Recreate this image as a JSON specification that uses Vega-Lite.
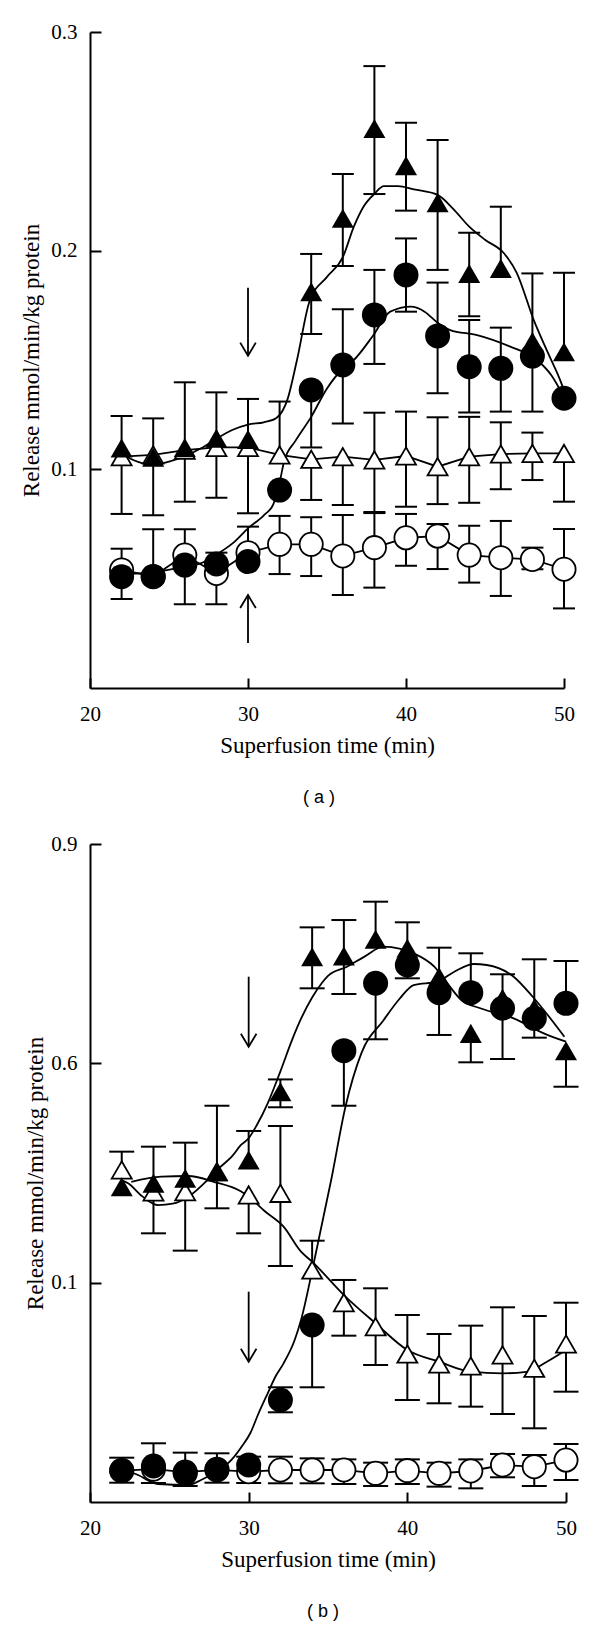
{
  "$schema": "https://vega.github.io/schema/vega-lite/v6.json",
  "background": "white",
  "padding": {"left": 20, "top": 21, "right": 5, "bottom": 5},
  "config": {
    "view": {"stroke": null},
    "axis": {"domainColor": "black", "tickColor": "black", "labelColor": "black", "titleColor": "black", "domainWidth": 2, "tickWidth": 2, "grid": false, "labelFont": "Liberation Serif", "titleFont": "Liberation Serif", "labelFontSize": 21, "titleFontSize": 23, "titleFontWeight": "normal", "labelFlush": false}
  },
  "datasets": {
    "pts": [
      {"p":"a","s":"FT","t":22,"v":0.1098,"hi":0.1244,"lo":0.0796},
      {"p":"a","s":"FT","t":24,"v":0.1055,"hi":0.1233,"lo":0.079},
      {"p":"a","s":"FT","t":26,"v":0.110,"hi":0.1398,"lo":0.0852},
      {"p":"a","s":"FT","t":28,"v":0.1142,"hi":0.1352,"lo":0.087},
      {"p":"a","s":"FT","t":30,"v":0.1137,"hi":0.1322,"lo":0.0799},
      {"p":"a","s":"FT","t":34,"v":0.1812,"hi":0.1985,"lo":0.1619},
      {"p":"a","s":"FT","t":36,"v":0.2148,"hi":0.2351,"lo":0.193},
      {"p":"a","s":"FT","t":38,"v":0.2559,"hi":0.2844,"lo":0.2259},
      {"p":"a","s":"FT","t":40,"v":0.2389,"hi":0.2585,"lo":0.2183},
      {"p":"a","s":"FT","t":42,"v":0.2219,"hi":0.2506,"lo":0.1912},
      {"p":"a","s":"FT","t":44,"v":0.1896,"hi":0.2082,"lo":0.170},
      {"p":"a","s":"FT","t":46,"v":0.1919,"hi":0.2201,"lo":null},
      {"p":"a","s":"FT","t":48,"v":0.1584,"hi":0.1896,"lo":null},
      {"p":"a","s":"FT","t":50,"v":0.1538,"hi":0.1899,"lo":null},
      {"p":"a","s":"OT","t":22,"v":0.1058,"hi":null,"lo":null},
      {"p":"a","s":"OT","t":24,"v":0.1066,"hi":null,"lo":null},
      {"p":"a","s":"OT","t":26,"v":0.1088,"hi":null,"lo":null},
      {"p":"a","s":"OT","t":28,"v":0.110,"hi":null,"lo":null},
      {"p":"a","s":"OT","t":30,"v":0.110,"hi":null,"lo":null},
      {"p":"a","s":"OT","t":32,"v":0.1066,"hi":0.131,"lo":null},
      {"p":"a","s":"OT","t":34,"v":0.1046,"hi":null,"lo":0.086},
      {"p":"a","s":"OT","t":36,"v":0.1058,"hi":null,"lo":0.0837},
      {"p":"a","s":"OT","t":38,"v":0.1043,"hi":0.1259,"lo":0.0805},
      {"p":"a","s":"OT","t":40,"v":0.1061,"hi":0.1264,"lo":0.0829},
      {"p":"a","s":"OT","t":42,"v":0.1012,"hi":0.1238,"lo":0.0841},
      {"p":"a","s":"OT","t":44,"v":0.1058,"hi":0.124,"lo":0.0847},
      {"p":"a","s":"OT","t":46,"v":0.107,"hi":0.1215,"lo":0.0909},
      {"p":"a","s":"OT","t":48,"v":0.1073,"hi":0.1168,"lo":0.0951},
      {"p":"a","s":"OT","t":50,"v":0.1073,"hi":null,"lo":0.0852},
      {"p":"a","s":"FC","t":22,"v":0.0509,"hi":0.0637,"lo":0.0407},
      {"p":"a","s":"FC","t":24,"v":0.0509,"hi":0.0726,"lo":null},
      {"p":"a","s":"FC","t":26,"v":0.0562,"hi":0.0726,"lo":0.0383},
      {"p":"a","s":"FC","t":28,"v":0.0567,"hi":0.0619,"lo":0.0383},
      {"p":"a","s":"FC","t":30,"v":0.0578,"hi":0.0738,"lo":null},
      {"p":"a","s":"FC","t":32,"v":0.0905,"hi":null,"lo":null},
      {"p":"a","s":"FC","t":34,"v":0.1363,"hi":null,"lo":0.110},
      {"p":"a","s":"FC","t":36,"v":0.1477,"hi":0.1732,"lo":0.121},
      {"p":"a","s":"FC","t":38,"v":0.1706,"hi":0.1912,"lo":0.1482},
      {"p":"a","s":"FC","t":40,"v":0.1889,"hi":0.2056,"lo":0.1721},
      {"p":"a","s":"FC","t":42,"v":0.161,"hi":0.1854,"lo":0.1348},
      {"p":"a","s":"FC","t":44,"v":0.1469,"hi":0.1683,"lo":0.126},
      {"p":"a","s":"FC","t":46,"v":0.1462,"hi":0.1648,"lo":0.1264},
      {"p":"a","s":"FC","t":48,"v":0.1518,"hi":null,"lo":0.1264},
      {"p":"a","s":"FC","t":50,"v":0.1325,"hi":null,"lo":null},
      {"p":"a","s":"OC","t":22,"v":0.054,"hi":null,"lo":null},
      {"p":"a","s":"OC","t":24,"v":0.051,"hi":null,"lo":null},
      {"p":"a","s":"OC","t":26,"v":0.0608,"hi":null,"lo":null},
      {"p":"a","s":"OC","t":28,"v":0.0524,"hi":null,"lo":null},
      {"p":"a","s":"OC","t":30,"v":0.0619,"hi":null,"lo":null},
      {"p":"a","s":"OC","t":32,"v":0.0657,"hi":0.0787,"lo":0.0521},
      {"p":"a","s":"OC","t":34,"v":0.0657,"hi":0.0781,"lo":0.0512},
      {"p":"a","s":"OC","t":36,"v":0.0604,"hi":0.0791,"lo":0.0425},
      {"p":"a","s":"OC","t":38,"v":0.0642,"hi":0.080,"lo":0.0459},
      {"p":"a","s":"OC","t":40,"v":0.0687,"hi":0.0796,"lo":0.0559},
      {"p":"a","s":"OC","t":42,"v":0.0695,"hi":0.075,"lo":0.0544},
      {"p":"a","s":"OC","t":44,"v":0.0608,"hi":0.0742,"lo":0.0482},
      {"p":"a","s":"OC","t":46,"v":0.0596,"hi":0.0764,"lo":0.0421},
      {"p":"a","s":"OC","t":48,"v":0.0588,"hi":0.0642,"lo":0.0543},
      {"p":"a","s":"OC","t":50,"v":0.0543,"hi":0.0727,"lo":0.0364},
      {"p":"b","s":"FT","t":22,"v":0.4313,"hi":null,"lo":null},
      {"p":"b","s":"FT","t":24,"v":0.4359,"hi":0.486,"lo":null},
      {"p":"b","s":"FT","t":26,"v":0.4427,"hi":0.4915,"lo":null},
      {"p":"b","s":"FT","t":28,"v":0.4518,"hi":0.542,"lo":0.4017},
      {"p":"b","s":"FT","t":30,"v":0.4678,"hi":0.5075,"lo":null},
      {"p":"b","s":"FT","t":32,"v":0.5612,"hi":0.578,"lo":0.5399},
      {"p":"b","s":"FT","t":34,"v":0.7459,"hi":0.786,"lo":0.7026},
      {"p":"b","s":"FT","t":36,"v":0.7468,"hi":0.796,"lo":0.6948},
      {"p":"b","s":"FT","t":38,"v":0.7696,"hi":0.8211,"lo":null},
      {"p":"b","s":"FT","t":40,"v":0.7573,"hi":0.7929,"lo":null},
      {"p":"b","s":"FT","t":42,"v":0.7185,"hi":0.7582,"lo":null},
      {"p":"b","s":"FT","t":44,"v":0.641,"hi":null,"lo":0.6014},
      {"p":"b","s":"FT","t":46,"v":0.689,"hi":0.7218,"lo":null},
      {"p":"b","s":"FT","t":48,"v":0.6753,"hi":0.7423,"lo":null},
      {"p":"b","s":"FT","t":50,"v":0.6173,"hi":null,"lo":0.568},
      {"p":"b","s":"OT","t":22,"v":0.4541,"hi":0.4792,"lo":null},
      {"p":"b","s":"OT","t":24,"v":0.424,"hi":null,"lo":0.3675},
      {"p":"b","s":"OT","t":26,"v":0.4245,"hi":null,"lo":0.3438},
      {"p":"b","s":"OT","t":28,"v":0.4518,"hi":null,"lo":null},
      {"p":"b","s":"OT","t":30,"v":0.42,"hi":null,"lo":0.3675},
      {"p":"b","s":"OT","t":32,"v":0.4222,"hi":0.5143,"lo":0.3228},
      {"p":"b","s":"OT","t":34,"v":0.3173,"hi":0.3574,"lo":null},
      {"p":"b","s":"OT","t":36,"v":0.2726,"hi":0.3037,"lo":0.2275},
      {"p":"b","s":"OT","t":38,"v":0.2398,"hi":0.2923,"lo":0.1874},
      {"p":"b","s":"OT","t":40,"v":0.2024,"hi":0.2558,"lo":0.1395},
      {"p":"b","s":"OT","t":42,"v":0.1888,"hi":0.2298,"lo":0.135},
      {"p":"b","s":"OT","t":44,"v":0.186,"hi":0.2412,"lo":0.1304},
      {"p":"b","s":"OT","t":46,"v":0.2011,"hi":0.2663,"lo":0.1204},
      {"p":"b","s":"OT","t":48,"v":0.1829,"hi":0.2544,"lo":0.1008},
      {"p":"b","s":"OT","t":50,"v":0.2161,"hi":0.2726,"lo":0.1509},
      {"p":"b","s":"FC","t":22,"v":0.0429,"hi":0.0606,"lo":0.0264},
      {"p":"b","s":"FC","t":24,"v":0.0492,"hi":0.0803,"lo":0.026},
      {"p":"b","s":"FC","t":26,"v":0.0392,"hi":0.0675,"lo":0.0219},
      {"p":"b","s":"FC","t":28,"v":0.0447,"hi":0.0666,"lo":0.0264},
      {"p":"b","s":"FC","t":30,"v":0.0506,"hi":0.062,"lo":0.026},
      {"p":"b","s":"FC","t":32,"v":0.1395,"hi":0.1569,"lo":0.1227},
      {"p":"b","s":"FC","t":34,"v":0.2421,"hi":null,"lo":0.1569},
      {"p":"b","s":"FC","t":36,"v":0.6173,"hi":null,"lo":0.542},
      {"p":"b","s":"FC","t":38,"v":0.7095,"hi":null,"lo":0.6329},
      {"p":"b","s":"FC","t":40,"v":0.7345,"hi":null,"lo":0.7163},
      {"p":"b","s":"FC","t":42,"v":0.6966,"hi":null,"lo":0.6388},
      {"p":"b","s":"FC","t":44,"v":0.6966,"hi":0.7505,"lo":null},
      {"p":"b","s":"FC","t":46,"v":0.6753,"hi":null,"lo":0.6059},
      {"p":"b","s":"FC","t":48,"v":0.6616,"hi":null,"lo":0.6351},
      {"p":"b","s":"FC","t":50,"v":0.6821,"hi":0.74,"lo":null},
      {"p":"b","s":"OC","t":22,"v":0.043,"hi":null,"lo":null},
      {"p":"b","s":"OC","t":24,"v":0.045,"hi":null,"lo":null},
      {"p":"b","s":"OC","t":26,"v":0.041,"hi":null,"lo":null},
      {"p":"b","s":"OC","t":28,"v":0.044,"hi":null,"lo":null},
      {"p":"b","s":"OC","t":30,"v":0.0415,"hi":null,"lo":null},
      {"p":"b","s":"OC","t":32,"v":0.0438,"hi":0.062,"lo":0.0256},
      {"p":"b","s":"OC","t":34,"v":0.0438,"hi":0.0597,"lo":0.0256},
      {"p":"b","s":"OC","t":36,"v":0.0438,"hi":0.0583,"lo":0.0246},
      {"p":"b","s":"OC","t":38,"v":0.0392,"hi":0.0538,"lo":0.0219},
      {"p":"b","s":"OC","t":40,"v":0.0429,"hi":0.0583,"lo":0.0246},
      {"p":"b","s":"OC","t":42,"v":0.0392,"hi":0.0538,"lo":0.021},
      {"p":"b","s":"OC","t":44,"v":0.0424,"hi":0.0583,"lo":0.0187},
      {"p":"b","s":"OC","t":46,"v":0.0506,"hi":0.0657,"lo":0.0338},
      {"p":"b","s":"OC","t":48,"v":0.0483,"hi":0.0643,"lo":0.0219},
      {"p":"b","s":"OC","t":50,"v":0.0574,"hi":0.0793,"lo":0.0301}
    ],
    "curves": [
      {"p":"a","s":"FT","t":22,"v":0.107},{"p":"a","s":"FT","t":23,"v":0.1035},{"p":"a","s":"FT","t":24,"v":0.102},{"p":"a","s":"FT","t":25,"v":0.1035},{"p":"a","s":"FT","t":26,"v":0.106},{"p":"a","s":"FT","t":27,"v":0.1095},{"p":"a","s":"FT","t":28,"v":0.114},{"p":"a","s":"FT","t":29,"v":0.118},{"p":"a","s":"FT","t":30,"v":0.1205},{"p":"a","s":"FT","t":31,"v":0.1215},{"p":"a","s":"FT","t":31.8,"v":0.1235},{"p":"a","s":"FT","t":32.5,"v":0.132},{"p":"a","s":"FT","t":33.1,"v":0.15},{"p":"a","s":"FT","t":33.9,"v":0.177},{"p":"a","s":"FT","t":35,"v":0.188},{"p":"a","s":"FT","t":36,"v":0.197},{"p":"a","s":"FT","t":36.7,"v":0.211},{"p":"a","s":"FT","t":37.3,"v":0.22},{"p":"a","s":"FT","t":38,"v":0.226},{"p":"a","s":"FT","t":38.6,"v":0.2295},{"p":"a","s":"FT","t":39.5,"v":0.2295},{"p":"a","s":"FT","t":40.5,"v":0.228},{"p":"a","s":"FT","t":42,"v":0.2255},{"p":"a","s":"FT","t":43,"v":0.219},{"p":"a","s":"FT","t":44,"v":0.211},{"p":"a","s":"FT","t":45,"v":0.205},{"p":"a","s":"FT","t":46.2,"v":0.1988},{"p":"a","s":"FT","t":47,"v":0.19},{"p":"a","s":"FT","t":48.1,"v":0.168},{"p":"a","s":"FT","t":49,"v":0.153},{"p":"a","s":"FT","t":49.8,"v":0.14},{"p":"a","s":"FT","t":50,"v":0.136},
      {"p":"a","s":"FC","t":22,"v":0.052},{"p":"a","s":"FC","t":24,"v":0.053},{"p":"a","s":"FC","t":26,"v":0.0555},{"p":"a","s":"FC","t":27,"v":0.057},{"p":"a","s":"FC","t":28,"v":0.061},{"p":"a","s":"FC","t":29,"v":0.066},{"p":"a","s":"FC","t":30,"v":0.073},{"p":"a","s":"FC","t":31,"v":0.079},{"p":"a","s":"FC","t":31.6,"v":0.084},{"p":"a","s":"FC","t":32,"v":0.094},{"p":"a","s":"FC","t":32.3,"v":0.104},{"p":"a","s":"FC","t":33,"v":0.113},{"p":"a","s":"FC","t":34,"v":0.124},{"p":"a","s":"FC","t":35,"v":0.137},{"p":"a","s":"FC","t":36,"v":0.146},{"p":"a","s":"FC","t":36.7,"v":0.15},{"p":"a","s":"FC","t":37.9,"v":0.161},{"p":"a","s":"FC","t":39,"v":0.1721},{"p":"a","s":"FC","t":40.3,"v":0.1744},{"p":"a","s":"FC","t":41.2,"v":0.172},{"p":"a","s":"FC","t":42,"v":0.167},{"p":"a","s":"FC","t":42.8,"v":0.1637},{"p":"a","s":"FC","t":44.5,"v":0.1614},{"p":"a","s":"FC","t":46.6,"v":0.1561},{"p":"a","s":"FC","t":48.3,"v":0.15},{"p":"a","s":"FC","t":49.2,"v":0.143},{"p":"a","s":"FC","t":50,"v":0.133},
      {"p":"b","s":"FT","t":22,"v":0.44},{"p":"b","s":"FT","t":22.4,"v":0.436},{"p":"b","s":"FT","t":23.3,"v":0.418},{"p":"b","s":"FT","t":24.3,"v":0.406},{"p":"b","s":"FT","t":25.2,"v":0.408},{"p":"b","s":"FT","t":26.2,"v":0.4176},{"p":"b","s":"FT","t":27.4,"v":0.4404},{"p":"b","s":"FT","t":28,"v":0.454},{"p":"b","s":"FT","t":29,"v":0.474},{"p":"b","s":"FT","t":29.5,"v":0.488},{"p":"b","s":"FT","t":30,"v":0.4975},{"p":"b","s":"FT","t":30.5,"v":0.515},{"p":"b","s":"FT","t":31.2,"v":0.5453},{"p":"b","s":"FT","t":32,"v":0.589},{"p":"b","s":"FT","t":32.7,"v":0.63},{"p":"b","s":"FT","t":33.3,"v":0.661},{"p":"b","s":"FT","t":34,"v":0.69},{"p":"b","s":"FT","t":34.6,"v":0.7095},{"p":"b","s":"FT","t":35,"v":0.7195},{"p":"b","s":"FT","t":36.2,"v":0.7322},{"p":"b","s":"FT","t":37.3,"v":0.746},{"p":"b","s":"FT","t":38.5,"v":0.7595},{"p":"b","s":"FT","t":39.5,"v":0.757},{"p":"b","s":"FT","t":40.4,"v":0.7505},{"p":"b","s":"FT","t":41.7,"v":0.7322},{"p":"b","s":"FT","t":42.5,"v":0.71},{"p":"b","s":"FT","t":43.4,"v":0.6866},{"p":"b","s":"FT","t":44.6,"v":0.6753},{"p":"b","s":"FT","t":46.7,"v":0.6616},{"p":"b","s":"FT","t":48.6,"v":0.641},{"p":"b","s":"FT","t":50,"v":0.6296},
      {"p":"b","s":"FC","t":22,"v":0.043},{"p":"b","s":"FC","t":22.8,"v":0.039},{"p":"b","s":"FC","t":24.3,"v":0.0246},{"p":"b","s":"FC","t":26.2,"v":0.0233},{"p":"b","s":"FC","t":27,"v":0.0301},{"p":"b","s":"FC","t":28,"v":0.042},{"p":"b","s":"FC","t":28.9,"v":0.0574},{"p":"b","s":"FC","t":29.5,"v":0.074},{"p":"b","s":"FC","t":30.1,"v":0.094},{"p":"b","s":"FC","t":30.6,"v":0.12},{"p":"b","s":"FC","t":31.2,"v":0.1487},{"p":"b","s":"FC","t":31.7,"v":0.172},{"p":"b","s":"FC","t":32.2,"v":0.1897},{"p":"b","s":"FC","t":32.9,"v":0.2216},{"p":"b","s":"FC","t":33.3,"v":0.2489},{"p":"b","s":"FC","t":34.1,"v":0.3265},{"p":"b","s":"FC","t":35.2,"v":0.4404},{"p":"b","s":"FC","t":36.1,"v":0.5407},{"p":"b","s":"FC","t":37.1,"v":0.6137},{"p":"b","s":"FC","t":38.5,"v":0.659},{"p":"b","s":"FC","t":39.5,"v":0.688},{"p":"b","s":"FC","t":40.4,"v":0.7071},{"p":"b","s":"FC","t":41.9,"v":0.7117},{"p":"b","s":"FC","t":42.96,"v":0.7253},{"p":"b","s":"FC","t":44.2,"v":0.7359},{"p":"b","s":"FC","t":45,"v":0.7345},{"p":"b","s":"FC","t":46.7,"v":0.7185},{"p":"b","s":"FC","t":47.9,"v":0.6911},{"p":"b","s":"FC","t":49.9,"v":0.6364},
      {"p":"b","s":"OT","t":22.6,"v":0.438},{"p":"b","s":"OT","t":24.5,"v":0.445},{"p":"b","s":"OT","t":26.2,"v":0.4459},{"p":"b","s":"OT","t":27.8,"v":0.438},{"p":"b","s":"OT","t":29.5,"v":0.425},{"p":"b","s":"OT","t":30,"v":0.4176},{"p":"b","s":"OT","t":31,"v":0.398},{"p":"b","s":"OT","t":32.2,"v":0.3766},{"p":"b","s":"OT","t":33.3,"v":0.3424},{"p":"b","s":"OT","t":34,"v":0.3287},{"p":"b","s":"OT","t":36,"v":0.2831},{"p":"b","s":"OT","t":38,"v":0.2444},{"p":"b","s":"OT","t":40,"v":0.2079},{"p":"b","s":"OT","t":42,"v":0.1919},{"p":"b","s":"OT","t":44,"v":0.1782},{"p":"b","s":"OT","t":46,"v":0.176},{"p":"b","s":"OT","t":47.5,"v":0.178},{"p":"b","s":"OT","t":48.8,"v":0.1919},{"p":"b","s":"OT","t":50,"v":0.2079}
    ],
    "arrows": [
      {"p":"a","t":30,"v":0.152,"v2":0.183,"dir":"down"},
      {"p":"a","t":30,"v":0.0425,"v2":0.0206,"dir":"up"},
      {"p":"b","t":30,"v":0.6228,"v2":0.7185,"dir":"down"},
      {"p":"b","t":30,"v":0.1919,"v2":0.2877,"dir":"down"}
    ]
  },
  "concat": [
    {
      "width": 474,
      "height": 656,
      "title": {"text": "( a )", "orient": "bottom", "anchor": "middle", "frame": "group", "font": "Liberation Sans", "fontSize": 18, "fontWeight": "normal", "color": "black", "offset": 32, "dx": -8},
      "encoding": {
        "x": {"field": "t", "type": "quantitative", "scale": {"domain": [20, 50], "nice": false}, "axis": {"values": [20, 30, 40, 50], "format": "d", "title": "Superfusion time (min)", "tickSize": -10, "labelPadding": 25, "titlePadding": 10}},
        "y": {"field": "v", "type": "quantitative", "scale": {"domain": [0, 0.3], "nice": false}, "axis": {"values": [0.1, 0.2, 0.3], "format": ".1f", "title": "Release mmol/min/kg protein", "tickSize": -11, "labelPadding": 24, "titlePadding": 7}}
      },
      "layer": [
        {"data": {"name": "pts"}, "transform": [{"filter": "datum.p=='a' && isValid(datum.hi)"}], "mark": {"type": "rule", "strokeWidth": 2, "color": "black"}, "encoding": {"y2": {"field": "hi"}}},
        {"data": {"name": "pts"}, "transform": [{"filter": "datum.p=='a' && isValid(datum.lo)"}], "mark": {"type": "rule", "strokeWidth": 2, "color": "black"}, "encoding": {"y2": {"field": "lo"}}},
        {"data": {"name": "pts"}, "transform": [{"filter": "datum.p=='a'"}, {"fold": ["hi", "lo"], "as": ["end", "v"]}, {"filter": "isValid(datum.v)"}], "mark": {"type": "tick", "orient": "horizontal", "size": 22, "thickness": 2, "color": "black", "opacity": 1}},
        {"data": {"name": "curves"}, "transform": [{"filter": "datum.p=='a'"}], "mark": {"type": "line", "interpolate": "monotone", "strokeWidth": 1.8, "color": "black"}, "encoding": {"detail": {"field": "s"}}},
        {"data": {"name": "pts"}, "transform": [{"filter": "datum.p=='a' && (datum.s=='OT' || datum.s=='OC')"}], "mark": {"type": "line", "strokeWidth": 1.8, "color": "black"}, "encoding": {"detail": {"field": "s"}}},
        {"data": {"name": "arrows"}, "transform": [{"filter": "datum.p=='a'"}], "mark": {"type": "rule", "strokeWidth": 1.8, "color": "black"}, "encoding": {"y2": {"field": "v2"}}},
        {"data": {"name": "arrows"}, "transform": [{"filter": "datum.p=='a' && datum.dir=='down'"}], "mark": {"type": "point", "shape": "M-0.6,-1L0,0L0.6,-1", "size": 676, "filled": false, "stroke": "black", "strokeWidth": 1.8, "opacity": 1}},
        {"data": {"name": "arrows"}, "transform": [{"filter": "datum.p=='a' && datum.dir=='up'"}], "mark": {"type": "point", "shape": "M-0.6,1L0,0L0.6,1", "size": 676, "filled": false, "stroke": "black", "strokeWidth": 1.8, "opacity": 1}},
        {"data": {"name": "pts"}, "transform": [{"filter": "datum.p=='a' && datum.s=='OT'"}], "mark": {"type": "point", "shape": "triangle-up", "size": 400, "filled": true, "fill": "white", "stroke": "black", "strokeWidth": 1.8, "opacity": 1}},
        {"data": {"name": "pts"}, "transform": [{"filter": "datum.p=='a' && datum.s=='OC'"}], "mark": {"type": "point", "shape": "circle", "size": 540, "filled": true, "fill": "white", "stroke": "black", "strokeWidth": 1.8, "opacity": 1}},
        {"data": {"name": "pts"}, "transform": [{"filter": "datum.p=='a' && datum.s=='FT'"}], "mark": {"type": "point", "shape": "triangle-up", "size": 484, "filled": true, "fill": "black", "opacity": 1}},
        {"data": {"name": "pts"}, "transform": [{"filter": "datum.p=='a' && datum.s=='FC'"}], "mark": {"type": "point", "shape": "circle", "size": 625, "filled": true, "fill": "black", "opacity": 1}}
      ]
    },
    {
      "width": 476,
      "height": 658,
      "title": {"text": "( b )", "orient": "bottom", "anchor": "middle", "frame": "group", "font": "Liberation Sans", "fontSize": 18, "fontWeight": "normal", "color": "black", "offset": 32, "dx": -5},
      "encoding": {
        "x": {"field": "t", "type": "quantitative", "scale": {"domain": [20, 50], "nice": false}, "axis": {"values": [20, 30, 40, 50], "format": "d", "title": "Superfusion time (min)", "tickSize": -10, "labelPadding": 25, "titlePadding": 10}},
        "y": {"field": "v", "type": "quantitative", "scale": {"domain": [0, 0.9], "nice": false}, "axis": {"values": [0.3, 0.6, 0.9], "labelExpr": "datum.value < 0.45 ? '0.1' : format(datum.value, '.1f')", "title": "Release mmol/min/kg protein", "tickSize": -11, "labelPadding": 24, "titlePadding": 3}}
      },
      "layer": [
        {"data": {"name": "pts"}, "transform": [{"filter": "datum.p=='b' && isValid(datum.hi)"}], "mark": {"type": "rule", "strokeWidth": 2, "color": "black"}, "encoding": {"y2": {"field": "hi"}}},
        {"data": {"name": "pts"}, "transform": [{"filter": "datum.p=='b' && isValid(datum.lo)"}], "mark": {"type": "rule", "strokeWidth": 2, "color": "black"}, "encoding": {"y2": {"field": "lo"}}},
        {"data": {"name": "pts"}, "transform": [{"filter": "datum.p=='b'"}, {"fold": ["hi", "lo"], "as": ["end", "v"]}, {"filter": "isValid(datum.v)"}], "mark": {"type": "tick", "orient": "horizontal", "size": 25, "thickness": 2, "color": "black", "opacity": 1}},
        {"data": {"name": "curves"}, "transform": [{"filter": "datum.p=='b'"}], "mark": {"type": "line", "interpolate": "monotone", "strokeWidth": 1.8, "color": "black"}, "encoding": {"detail": {"field": "s"}}},
        {"data": {"name": "pts"}, "transform": [{"filter": "datum.p=='b' && datum.s=='OC'"}], "mark": {"type": "line", "strokeWidth": 1.8, "color": "black"}, "encoding": {"detail": {"field": "s"}}},
        {"data": {"name": "arrows"}, "transform": [{"filter": "datum.p=='b'"}], "mark": {"type": "rule", "strokeWidth": 1.8, "color": "black"}, "encoding": {"y2": {"field": "v2"}}},
        {"data": {"name": "arrows"}, "transform": [{"filter": "datum.p=='b' && datum.dir=='down'"}], "mark": {"type": "point", "shape": "M-0.6,-1L0,0L0.6,-1", "size": 676, "filled": false, "stroke": "black", "strokeWidth": 1.8, "opacity": 1}},
        {"data": {"name": "pts"}, "transform": [{"filter": "datum.p=='b' && datum.s=='OT'"}], "mark": {"type": "point", "shape": "triangle-up", "size": 400, "filled": true, "fill": "white", "stroke": "black", "strokeWidth": 1.8, "opacity": 1}},
        {"data": {"name": "pts"}, "transform": [{"filter": "datum.p=='b' && datum.s=='OC'"}], "mark": {"type": "point", "shape": "circle", "size": 540, "filled": true, "fill": "white", "stroke": "black", "strokeWidth": 1.8, "opacity": 1}},
        {"data": {"name": "pts"}, "transform": [{"filter": "datum.p=='b' && datum.s=='FT'"}], "mark": {"type": "point", "shape": "triangle-up", "size": 484, "filled": true, "fill": "black", "opacity": 1}},
        {"data": {"name": "pts"}, "transform": [{"filter": "datum.p=='b' && datum.s=='FC'"}], "mark": {"type": "point", "shape": "circle", "size": 625, "filled": true, "fill": "black", "opacity": 1}}
      ]
    }
  ],
  "columns": 1,
  "align": "none",
  "spacing": 26
}
